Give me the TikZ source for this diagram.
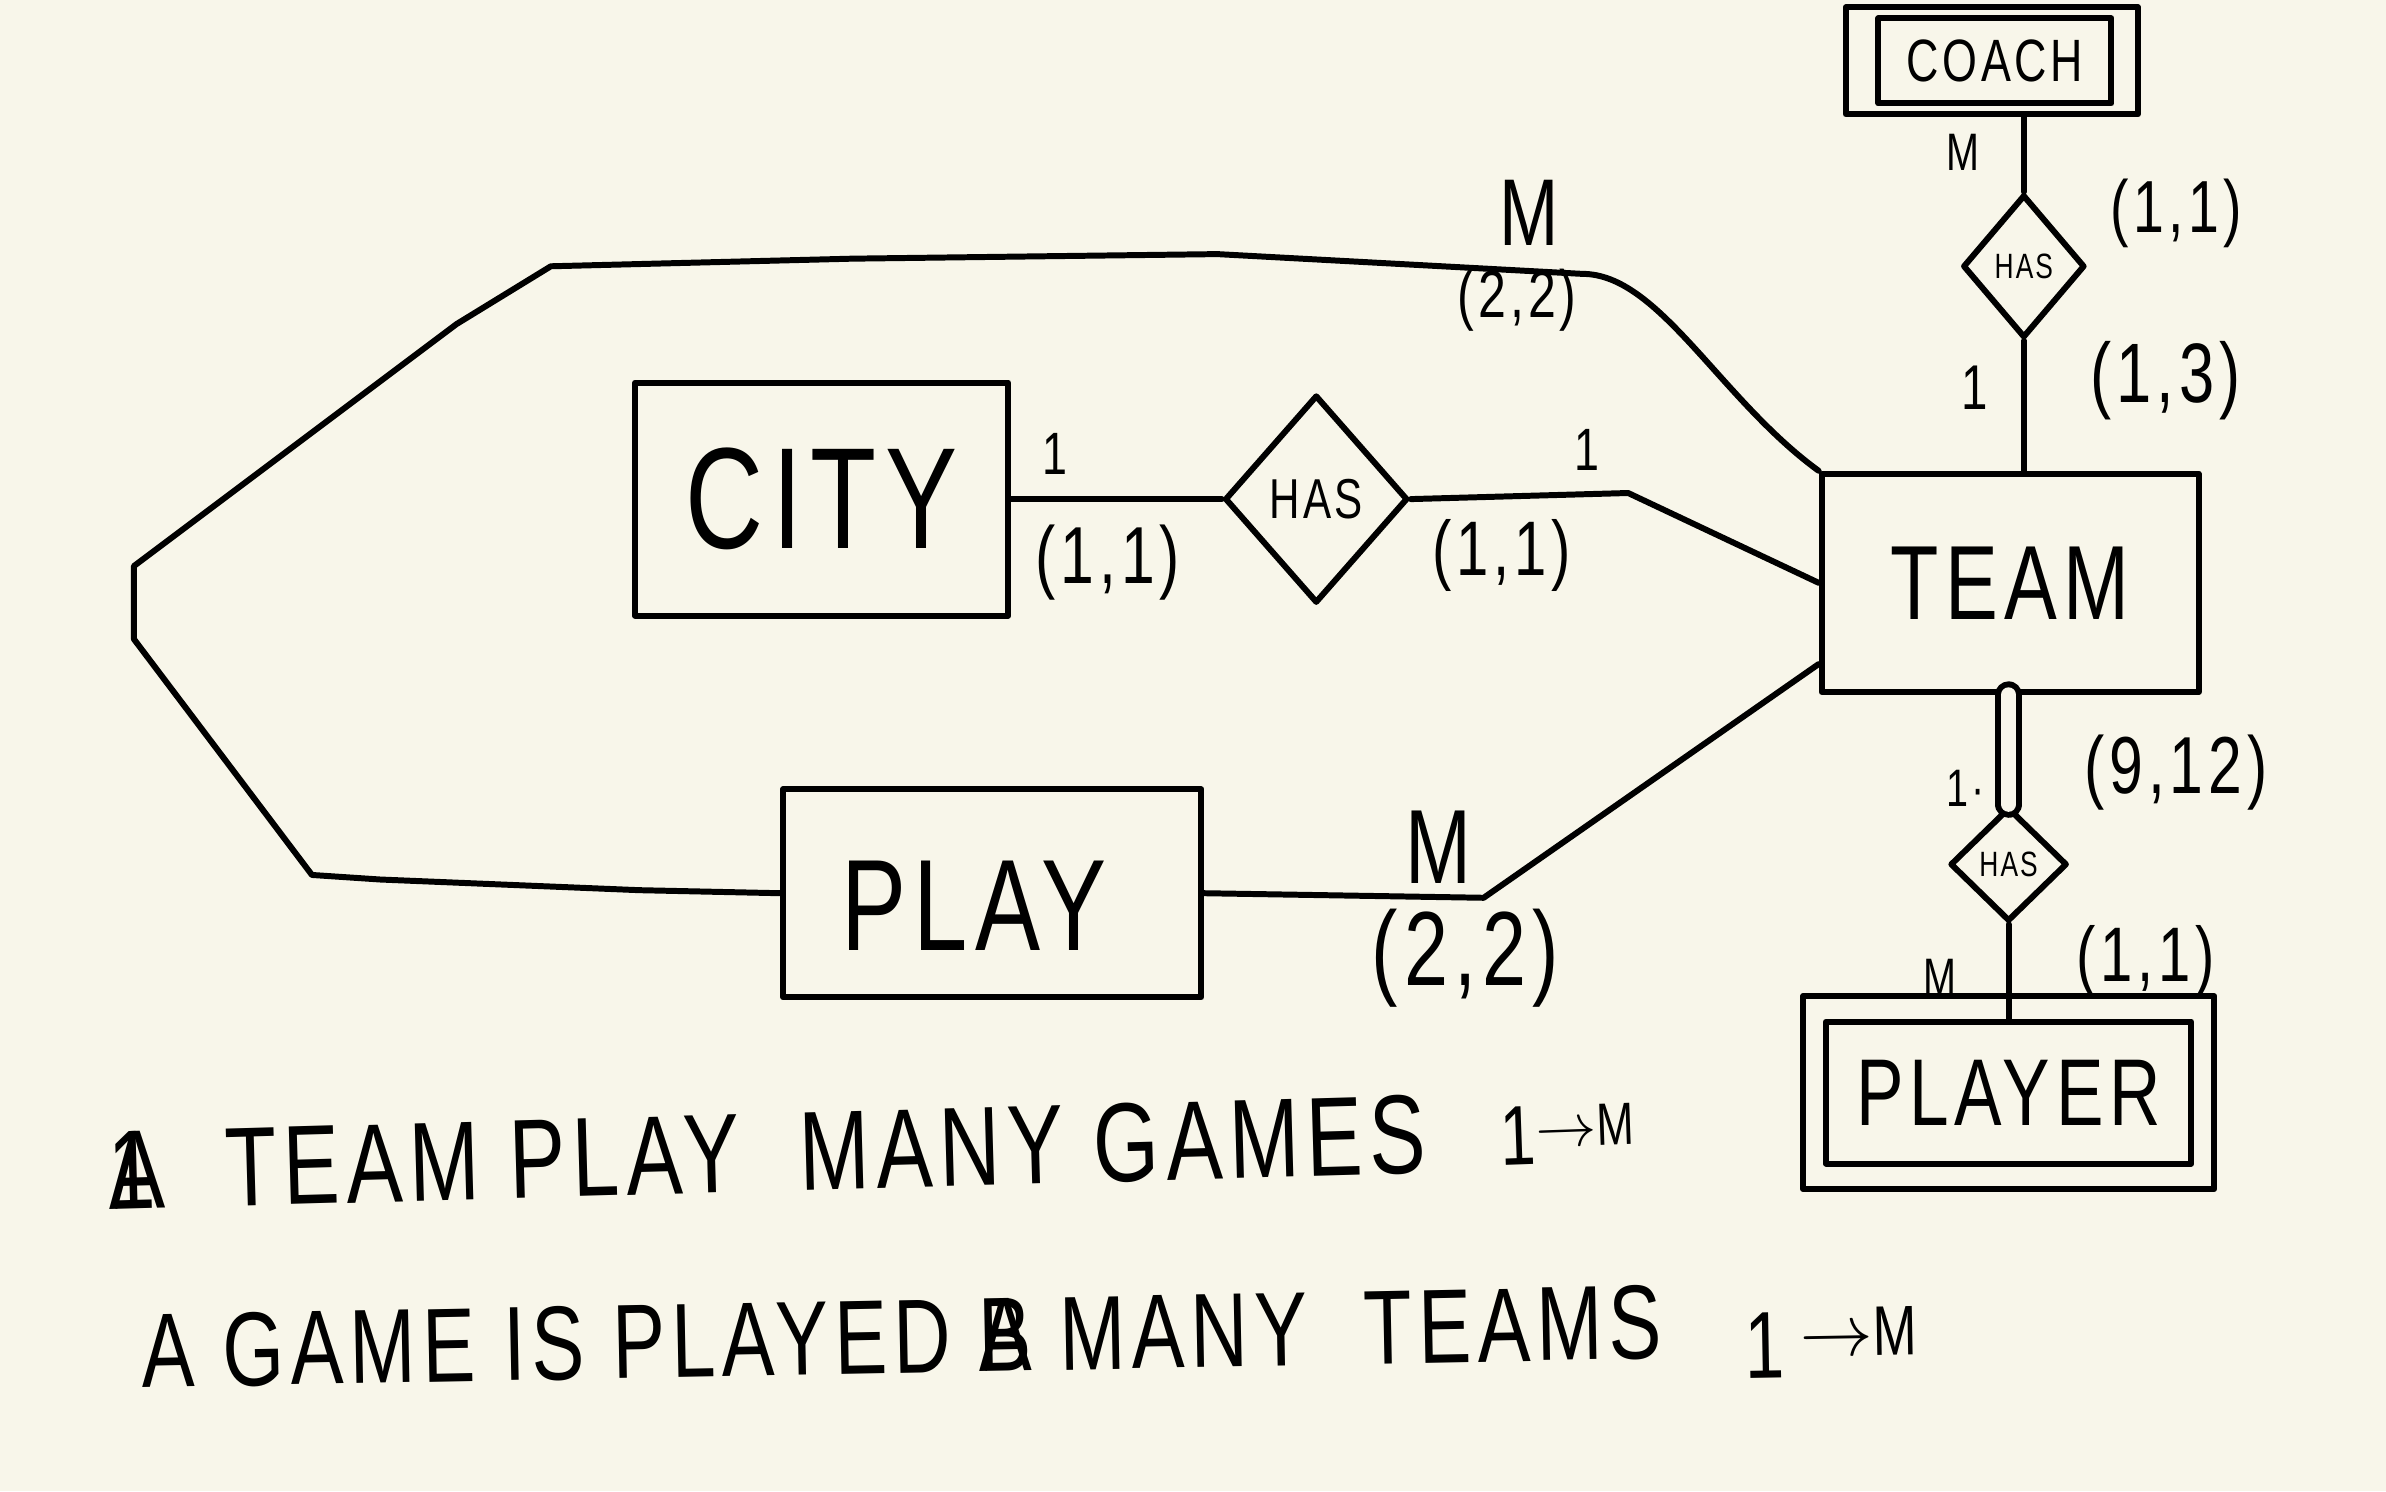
\documentclass[tikz,border=0pt]{standalone}
\usepackage{fontspec}
\usepackage{tikz}
\usetikzlibrary{shapes.geometric}
\newfontfamily\hand[FakeStretch=0.75,LetterSpace=6]{Liberation Sans}
\newcommand\hsz[1]{\hand\fontsize{#1}{#1}\selectfont}
\definecolor{ERPaper}{HTML}{F8F6EA}
\definecolor{ERInk}{HTML}{000000}

\begin{document}
\begin{tikzpicture}[x=0.015217cm,y=-0.015217cm,line width=1.7pt,line cap=round,line join=round,
  entity/.style={draw=ERInk,inner sep=0pt},
  rel/.style={diamond,draw=ERInk,inner sep=0pt},
  card/.style={text=ERInk,inner sep=0pt}]
\fill[ERPaper] (0,0) rectangle (1568,980);
% entities and relations
\node[entity,minimum width=3.73cm,minimum height=2.33cm,font=\hsz{41}] (city) at (540,328) {CITY};
\node[rel,minimum width=1.83cm,minimum height=2.08cm,font=\hsz{16}] (has1) at (865,328) {HAS};
\node[entity,minimum width=3.77cm,minimum height=2.18cm,font=\hsz{30}] (team) at (1321,383) {TEAM};
\node[entity,minimum width=4.18cm,minimum height=2.08cm] (play) at (652,587) {};
\node[card,font=\hsz{37}] (playtxt) at (640,595) {PLAY};
\node[entity,minimum width=2.92cm,minimum height=1.07cm] (coachbox) at (1309,40) {};
\node[entity,minimum width=2.33cm,minimum height=0.85cm,font=\hsz{17}] (coach) at (1311,40) {COACH};
\node[rel,minimum width=1.22cm,minimum height=1.43cm,font=\hsz{10}] (has2) at (1330,175) {HAS};
\node[rel,minimum width=1.17cm,minimum height=1.14cm,font=\hsz{10}] (has3) at (1320,568) {HAS};
\node[entity,minimum width=4.11cm,minimum height=1.93cm] (playerbox) at (1320,718) {};
\node[entity,minimum width=3.65cm,minimum height=1.42cm,font=\hsz{27}] (player) at (1320,718) {PLAYER};
% connectors
\coordinate (cb) at (1070,324);
\coordinate (pb) at (975,590);
\draw[ERInk] (city.east) -- (has1.west);
\draw[ERInk] (has1.east) -- (cb) -- (team.west);
\draw[ERInk] (play.east) -- (pb) -- (team.203);
\draw[ERInk] (team.north west) .. controls (1130,262) and (1090,180) .. (1040,180) -- (800,167) -- (560,170) -- (362,175) -- (300,213) -- (88,372) -- (88,420) -- (205,575) -- (250,578) -- (420,585) -- (play.west);
\draw[ERInk] (has2.north) -- (has2.north |- coachbox.south);
\draw[ERInk] (has2.south) -- (has2.south |- team.north);
\draw[ERInk,double=ERPaper,double distance=0.15cm] (has3.north) -- (has3.north |- team.south);
\draw[ERInk] (has3.south) -- (has3.south |- player.north);
% cardinalities
\node[card,font=\hsz{17}] (c1a) at (693,298) {1};
\node[card,font=\hsz{23}] (c1b) at (728,370) {(1,1)};
\node[card,font=\hsz{17}] (c2a) at (1043,296) {1};
\node[card,font=\hsz{22}] (c2b) at (987,365) {(1,1)};
\node[card,font=\hsz{27}] (c3a) at (1005,140) {M};
\node[card,font=\hsz{19}] (c3b) at (997,197) {(2,2)};
\node[card,font=\hsz{30}] (c4a) at (945,557) {M};
\node[card,font=\hsz{30}] (c4b) at (963,630) {(2,2)};
\node[card,font=\hsz{15}] (c5a) at (1290,100) {M};
\node[card,font=\hsz{21}] (c5b) at (1430,140) {(1,1)};
\node[card,font=\hsz{18}] (c6a) at (1298,255) {1};
\node[card,font=\hsz{24}] (c6b) at (1423,250) {(1,3)};
\node[card,font=\hsz{15}] (c7a) at (1292,518) {1·};
\node[card,font=\hsz{23}] (c7b) at (1430,508) {(9,12)};
\node[card,font=\hsz{15}] (c8a) at (1275,642) {M};
\node[card,font=\hsz{22}] (c8b) at (1410,632) {(1,1)};
% notes
\node[card,anchor=base west,rotate=1.6,font=\hsz{32}] (rule1) at (70,795) {\rlap{1}A\ \ TEAM PLAY\ \ MANY GAMES};
\node[card,anchor=base west,rotate=2,font=\hsz{24}] (arrow1) at (985,766) {1\raisebox{4.7pt}{\fontsize{17}{17}\selectfont$\rightarrow$M}};
\node[card,anchor=base west,rotate=1.1,font=\hsz{30}] (rule2) at (92,912) {A GAME IS PLAYED \rlap{B}A MANY\ \ TEAMS};
\node[card,anchor=base west,rotate=1,font=\hsz{27}] (arrow2) at (1145,906) {1\,\raisebox{6pt}{\fontsize{20}{20}\selectfont$\rightarrow$M}};
\end{tikzpicture}
\end{document}
